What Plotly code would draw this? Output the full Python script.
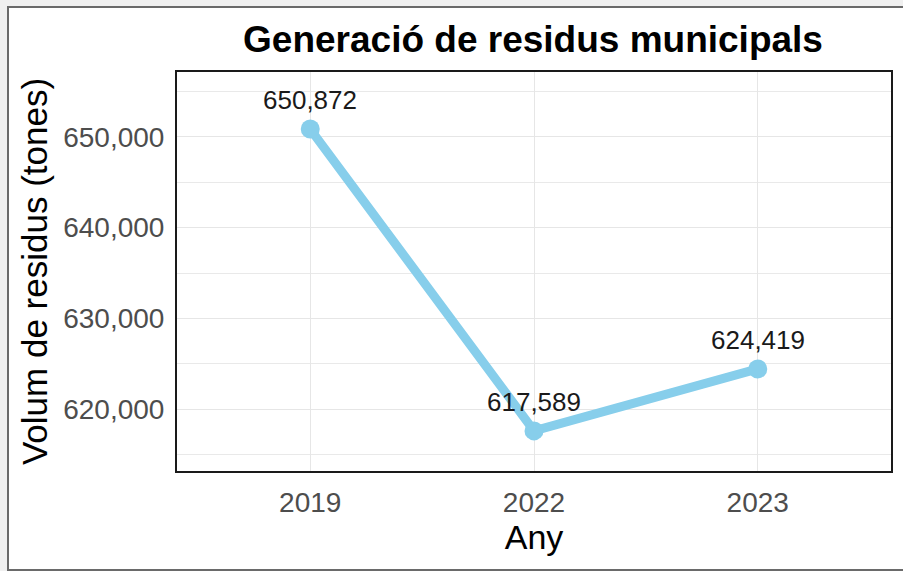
import plotly.graph_objects as go

years = ["2019", "2022", "2023"]
volum = [650872, 617589, 624419]
y_ticks = [620000, 630000, 640000, 650000]

W, H = 903, 571
ml, mr, mt, mb = 176, 11, 71, 99
pw, ph = W - ml - mr, H - mt - mb

def px_x(px):
    return (px - ml) / pw

def px_y(py):
    return (H - mb - py) / ph

FONT = "Liberation Sans, Arial, sans-serif"

fig = go.Figure()
fig.add_trace(go.Scatter(
    x=years, y=volum, mode="lines+markers",
    line=dict(color="#87CEEB", width=9),
    marker=dict(color="#87CEEB", size=19),
    hoverinfo="skip", showlegend=False,
))

for i, v in enumerate(volum):
    fig.add_annotation(x=i, y=v, xref="x", yref="y", text=f"{v:,}", showarrow=False,
                       yshift=29, font=dict(family=FONT, size=26, color="#1a1a1a"))

# outer white card with grey frame
fig.add_shape(type="rect", xref="paper", yref="paper",
              x0=px_x(8), x1=px_x(910), y0=px_y(570), y1=px_y(7),
              line=dict(color="#6a6a6a", width=2), fillcolor="white", layer="below")
# panel border
fig.add_shape(type="rect", xref="paper", yref="paper",
              x0=0, x1=1, y0=0, y1=1,
              line=dict(color="#1a1a1a", width=2), fillcolor="rgba(0,0,0,0)", layer="above")

fig.update_layout(
    width=W, height=H,
    margin=dict(l=ml, r=mr, t=mt, b=mb, pad=0),
    paper_bgcolor="#F0F0F0",
    plot_bgcolor="#F0F0F0",
    font=dict(family=FONT, color="#4D4D4D"),
    title=dict(text="<b>Generació de residus municipals</b>",
               x=533 / W, xanchor="center",
               y=1 - 39 / H, yanchor="middle",
               font=dict(size=37, color="black")),
    xaxis=dict(
        type="category", range=[-0.6, 2.6],
        showgrid=True, gridcolor="#E6E6E6", gridwidth=1,
        ticks="outside", ticklen=5, tickcolor="white",
        tickfont=dict(size=28, color="#4D4D4D"),
        title=dict(text="Any", font=dict(size=34, color="black"), standoff=2),
        zeroline=False,
    ),
    yaxis=dict(
        range=[613054, 657277],
        tickvals=y_ticks, tickformat=",",
        showgrid=True, gridcolor="#E6E6E6", gridwidth=1,
        minor=dict(dtick=10000, tick0=615000, showgrid=True, gridcolor="#E9E9E9", gridwidth=1),
        ticks="outside", ticklen=5, tickcolor="white",
        tickfont=dict(size=28, color="#4D4D4D"),
        title=dict(text="Volum de residus (tones)", font=dict(size=35, color="black"), standoff=4),
        zeroline=False,
    ),
)

fig.write_html("out.html", config={"displayModeBar": False},
               post_script="document.body.style.margin='0';document.body.style.background='#F0F0F0';")
